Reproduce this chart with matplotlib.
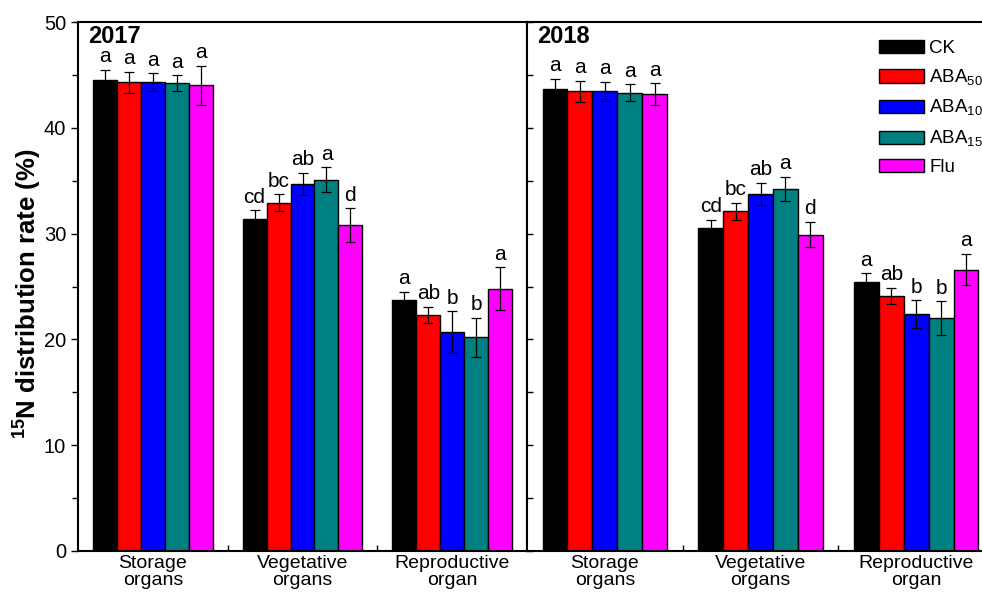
import numpy as np
import matplotlib
matplotlib.use("Agg")
import matplotlib.pyplot as plt
from matplotlib.ticker import MultipleLocator, FixedLocator

plt.rcParams['font.family'] = ['Liberation Sans', 'DejaVu Sans']
plt.rcParams['mathtext.fontset'] = 'custom'
plt.rcParams['mathtext.rm'] = 'Liberation Sans'
plt.rcParams['mathtext.bf'] = 'Liberation Sans:bold'

categories = ["Storage\norgans", "Vegetative\norgans", "Reproductive\norgan"]
treatments = ["CK", "ABA$_{50}$", "ABA$_{10}$", "ABA$_{15}$", "Flu"]
colors = ["#000000", "#FF0000", "#0000FF", "#008080", "#FF00FF"]

# rows: treatments; columns: organ categories
mean_2017 = [
    [44.5, 31.4, 23.7],
    [44.3, 32.9, 22.3],
    [44.3, 34.7, 20.7],
    [44.2, 35.1, 20.2],
    [44.0, 30.8, 24.8],
]
err_2017 = [
    [1.0, 0.8, 0.8],
    [1.0, 0.8, 0.75],
    [0.85, 1.05, 1.95],
    [0.75, 1.15, 1.85],
    [1.85, 1.6, 2.0],
]
letters_2017 = [
    ["a", "cd", "a"],
    ["a", "bc", "ab"],
    ["a", "ab", "b"],
    ["a", "a", "b"],
    ["a", "d", "a"],
]

mean_2018 = [
    [43.7, 30.55, 25.45],
    [43.45, 32.1, 24.1],
    [43.45, 33.75, 22.4],
    [43.3, 34.2, 22.0],
    [43.2, 29.9, 26.6],
]
err_2018 = [
    [0.95, 0.75, 0.8],
    [1.0, 0.8, 0.78],
    [0.9, 1.05, 1.3],
    [0.8, 1.15, 1.6],
    [1.0, 1.2, 1.5],
]
letters_2018 = [
    ["a", "cd", "a"],
    ["a", "bc", "ab"],
    ["a", "ab", "b"],
    ["a", "a", "b"],
    ["a", "d", "a"],
]

W, H = 982, 596
fig = plt.figure(figsize=(W / 100, H / 100), dpi=100)
bottom = (H - 551) / H
height = (551 - 22) / H
ax1 = fig.add_axes([78 / W, bottom, (527 - 78) / W, height])
ax2 = fig.add_axes([527 / W, bottom, (994 - 527) / W, height])

x = np.arange(len(categories))
bw = 0.16


def draw_panel(ax, means, errs, letters, year):
    for i, (m, e, lab) in enumerate(zip(means, errs, letters)):
        xpos = x + (i - 2) * bw
        ax.bar(xpos, m, width=bw, color=colors[i], edgecolor="black",
               linewidth=1.0, label=treatments[i], zorder=2)
        ax.errorbar(xpos, m, yerr=e, fmt="none", ecolor="black",
                    elinewidth=0.9, capsize=3.6, capthick=0.9, zorder=3)
        for xp, mv, ev, t in zip(xpos, m, e, lab):
            ax.annotate(t, (xp, mv + ev), xytext=(0, 5.5),
                        textcoords="offset points", ha="center",
                        va="baseline", fontsize=15)
    ax.set_xlim(-0.5, 2.5)
    ax.set_ylim(0, 50)
    ax.set_xticks(x)
    ax.set_xticklabels(categories, fontsize=14, linespacing=1.0)
    ax.xaxis.set_minor_locator(FixedLocator([0.5, 1.5]))
    ax.tick_params(axis="x", which="major", length=0, pad=3)
    ax.tick_params(axis="x", which="minor", direction="in", length=4,
                   width=1)
    ax.yaxis.set_major_locator(MultipleLocator(10))
    ax.yaxis.set_minor_locator(MultipleLocator(5))
    for sp in ax.spines.values():
        sp.set_linewidth(1.5)
    ax.text(0.022, 0.995, year, transform=ax.transAxes, ha="left",
            va="top", fontsize=17, fontweight="bold")


draw_panel(ax1, mean_2017, err_2017, letters_2017, "2017")
draw_panel(ax2, mean_2018, err_2018, letters_2018, "2018")

ax1.tick_params(axis="y", which="major", direction="out", length=5,
                width=1, labelsize=14.5)
ax1.tick_params(axis="y", which="minor", direction="out", length=4,
                width=1)
ax1.set_ylabel(r"$\mathbf{^{15}}$N distribution rate (%)", fontsize=18.5,
               fontweight="bold")
ax1.yaxis.set_label_coords(-0.075, 0.486)

ax2.tick_params(axis="y", which="both", direction="in", length=4,
                width=1, labelleft=False)

ax2.legend(loc="upper left", bbox_to_anchor=(0.737, 0.98), frameon=False,
           fontsize=13.5, handlelength=2.4, handleheight=0.7,
           labelspacing=0.55, handletextpad=0.3, borderaxespad=0)

fig.savefig("out.png", dpi=100)
